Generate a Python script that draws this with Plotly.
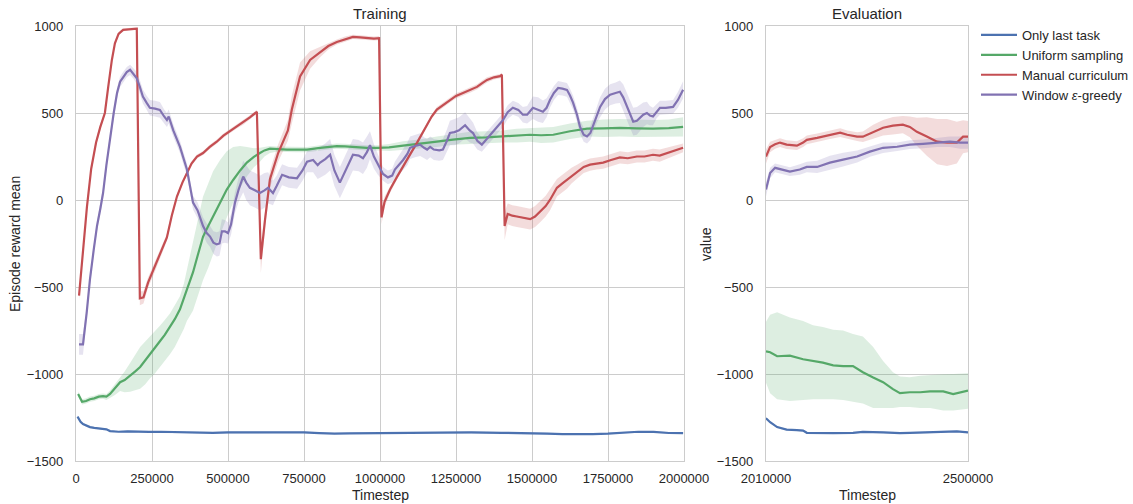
import plotly.graph_objects as go

# ---------------- DATA ----------------
series_names = ["Only last task", "Uniform sampling", "Manual curriculum", "Window <i>ε</i>-greedy"]
series_colors = ["#4C72B0", "#55A868", "#C44E52", "#8172B2"]

# Training: (timestep, mean, half-band)
train_blue = [
    (5000, -1245, 8), (15000, -1275, 8), (23000, -1288, 6), (35000, -1298, 6), (46000, -1305, 5),
    (60000, -1310, 5), (75000, -1313, 5), (89000, -1316, 5), (100000, -1318, 5), (112000, -1328, 5),
    (140000, -1332, 5), (170000, -1330, 5), (200000, -1332, 5), (240000, -1333, 5), (280000, -1332, 5),
    (320000, -1333, 5), (360000, -1337, 5), (400000, -1339, 5), (450000, -1338, 5), (500000, -1336, 5),
    (550000, -1336, 5), (600000, -1337, 5), (650000, -1335, 5), (700000, -1334, 5), (750000, -1336, 5),
    (800000, -1340, 5), (850000, -1343, 5), (900000, -1341, 5), (950000, -1340, 5), (1000000, -1338, 5),
    (1100000, -1337, 5), (1200000, -1336, 5), (1300000, -1336, 5), (1400000, -1338, 5), (1500000, -1339, 5),
    (1550000, -1343, 5), (1600000, -1345, 5), (1650000, -1346, 5), (1700000, -1345, 5), (1750000, -1343, 5),
    (1800000, -1337, 5), (1850000, -1332, 5), (1900000, -1333, 5), (1950000, -1339, 5), (1997000, -1340, 5),
]

# Training green: (timestep, mean, upper offset, lower offset)
train_green = [
    (7000, -1115, 15, 15), (20000, -1160, 15, 15), (33000, -1155, 15, 15), (46000, -1145, 15, 15),
    (60000, -1140, 15, 15), (75000, -1130, 15, 15), (89000, -1127, 15, 15), (100000, -1130, 15, 20),
    (112000, -1115, 20, 25), (128000, -1085, 25, 35), (145000, -1047, 30, 50), (160000, -1035, 50, 70),
    (178000, -1012, 75, 90), (195000, -985, 95, 110), (211000, -960, 115, 125), (227000, -925, 110, 135),
    (243000, -886, 100, 140), (260000, -850, 95, 145), (276000, -812, 90, 148), (292000, -775, 85, 150),
    (309000, -732, 80, 155), (325000, -685, 80, 160), (342000, -628, 75, 160), (355000, -570, 90, 170),
    (365000, -514, 110, 180), (375000, -465, 140, 200), (385000, -415, 170, 220), (400000, -320, 200, 240),
    (418000, -210, 230, 250), (435000, -150, 250, 240), (451000, -95, 260, 220), (474000, -10, 240, 190),
    (496000, 60, 220, 160), (517000, 115, 190, 130), (540000, 170, 140, 100), (562000, 215, 90, 80),
    (585000, 248, 50, 60), (605000, 270, 30, 50), (620000, 285, 20, 35), (638000, 295, 15, 25),
    (660000, 292, 15, 15), (694000, 290, 15, 15), (727000, 290, 15, 15), (760000, 290, 15, 15),
    (803000, 300, 15, 15), (830000, 305, 15, 15), (858000, 310, 15, 15), (885000, 308, 15, 15),
    (911000, 305, 15, 15), (957000, 300, 15, 15), (993000, 300, 15, 15), (1030000, 302, 20, 20),
    (1076000, 312, 25, 25), (1130000, 322, 25, 25), (1187000, 335, 30, 30), (1240000, 347, 30, 30),
    (1296000, 357, 35, 35), (1350000, 360, 35, 35), (1405000, 365, 35, 35), (1450000, 370, 40, 40),
    (1493000, 375, 40, 40), (1530000, 372, 45, 45), (1570000, 375, 45, 45), (1625000, 395, 45, 45),
    (1681000, 410, 45, 45), (1735000, 412, 50, 50), (1789000, 415, 50, 50), (1845000, 412, 50, 50),
    (1898000, 410, 50, 50), (1950000, 413, 50, 50), (1997000, 420, 55, 55),
]

train_red = [
    (10000, -550, 25), (23000, -300, 25), (36000, -40, 25), (50000, 180, 20), (66000, 330, 20),
    (80000, 420, 15), (95000, 500, 15), (106000, 650, 12), (118000, 805, 12), (128000, 900, 12),
    (140000, 955, 10), (155000, 978, 8), (175000, 983, 8), (200000, 985, 8), (210000, -565, 40),
    (222000, -560, 35), (237000, -475, 30), (260000, -380, 30), (280000, -300, 25), (299000, -215, 20),
    (315000, -90, 15), (332000, 20, 12), (350000, 100, 12), (365000, 157, 12), (380000, 210, 12),
    (398000, 250, 12), (418000, 270, 12), (440000, 305, 12), (463000, 335, 12), (485000, 370, 12),
    (506000, 395, 12), (530000, 425, 12), (550000, 444, 12), (572000, 475, 12), (595000, 507, 12),
    (608000, -340, 80), (622000, -110, 50), (638000, 120, 50), (665000, 270, 50), (697000, 400, 60),
    (710000, 520, 80), (737000, 710, 80), (770000, 805, 50), (803000, 850, 30), (830000, 885, 20),
    (858000, 908, 15), (885000, 925, 15), (911000, 937, 12), (935000, 935, 12), (957000, 930, 12),
    (980000, 928, 12), (997000, 930, 12), (1005000, -100, 40), (1015000, -10, 30), (1033000, 60, 20),
    (1055000, 130, 15), (1076000, 190, 12), (1100000, 265, 12), (1122000, 330, 12), (1140000, 385, 12),
    (1155000, 430, 12), (1170000, 480, 12), (1187000, 520, 15), (1210000, 550, 15), (1230000, 575, 15),
    (1250000, 598, 15), (1273000, 615, 15), (1296000, 632, 15), (1319000, 650, 15), (1335000, 670, 15),
    (1352000, 690, 15), (1375000, 705, 12), (1395000, 712, 12), (1401000, 720, 12), (1410000, -150, 80),
    (1420000, -80, 60), (1435000, -90, 60), (1450000, -95, 60), (1470000, -100, 60), (1494000, -110, 60),
    (1510000, -95, 60), (1526000, -70, 60), (1545000, -35, 60), (1559000, 0, 60), (1582000, 70, 50),
    (1600000, 95, 50), (1615000, 115, 50), (1630000, 140, 45), (1648000, 163, 40), (1670000, 190, 35),
    (1691000, 203, 35), (1712000, 210, 35), (1734000, 215, 35), (1760000, 230, 35), (1789000, 245, 35),
    (1815000, 240, 35), (1845000, 250, 35), (1870000, 250, 35), (1898000, 260, 35), (1920000, 255, 35),
    (1944000, 270, 30), (1970000, 285, 30), (1997000, 300, 25),
]

train_purple = [
    (10000, -830, 60), (23000, -830, 60), (35000, -650, 35), (46000, -455, 30), (58000, -290, 30),
    (69000, -150, 30), (80000, -50, 30), (89000, 40, 30), (100000, 200, 30), (112000, 365, 30),
    (124000, 500, 30), (135000, 615, 30), (145000, 680, 30), (155000, 705, 30), (167000, 735, 30),
    (178000, 748, 30), (190000, 725, 30), (200000, 700, 35), (210000, 650, 40), (220000, 595, 40),
    (232000, 560, 40), (243000, 530, 45), (260000, 525, 45), (276000, 518, 45), (290000, 480, 40),
    (299000, 460, 40), (305000, 480, 40), (320000, 400, 35), (342000, 305, 35), (355000, 230, 35),
    (365000, 175, 35), (375000, 80, 35), (385000, -15, 40), (400000, -60, 45), (418000, -150, 50),
    (430000, -190, 55), (441000, -210, 60), (452000, -245, 65), (463000, -255, 70), (472000, -250, 70),
    (480000, -180, 70), (490000, -180, 65), (500000, -190, 60), (510000, -140, 60), (523000, -15, 60),
    (535000, 60, 70), (550000, 135, 90), (560000, 100, 100), (572000, 70, 100), (590000, 55, 100),
    (605000, 40, 100), (620000, 55, 100), (632000, 70, 90), (640000, 55, 80), (648000, 40, 70),
    (660000, 80, 60), (678000, 145, 60), (700000, 130, 60), (727000, 125, 60), (745000, 170, 60),
    (760000, 220, 60), (780000, 230, 70), (795000, 200, 80), (803000, 215, 90), (820000, 235, 90),
    (836000, 260, 90), (850000, 170, 90), (868000, 100, 90), (890000, 180, 90), (911000, 260, 90),
    (930000, 255, 90), (944000, 240, 90), (957000, 275, 90), (967000, 315, 80), (980000, 250, 70),
    (993000, 205, 60), (1010000, 150, 40), (1026000, 130, 40), (1040000, 140, 40), (1049000, 175, 45),
    (1062000, 200, 55), (1076000, 230, 60), (1090000, 265, 65), (1099000, 300, 65), (1115000, 310, 65),
    (1132000, 318, 65), (1145000, 300, 60), (1155000, 290, 60), (1165000, 305, 60), (1177000, 290, 60),
    (1195000, 285, 60), (1207000, 290, 60), (1220000, 340, 65), (1230000, 385, 70), (1245000, 390, 75),
    (1260000, 400, 75), (1280000, 430, 75), (1295000, 400, 70), (1306000, 385, 60), (1320000, 340, 50),
    (1335000, 318, 40), (1350000, 350, 40), (1362000, 375, 40), (1385000, 420, 40), (1405000, 460, 40),
    (1420000, 505, 40), (1437000, 530, 40), (1455000, 518, 40), (1470000, 490, 45), (1484000, 490, 50),
    (1503000, 530, 65), (1520000, 520, 70), (1536000, 507, 65), (1548000, 530, 55), (1559000, 575, 45),
    (1572000, 615, 40), (1586000, 644, 40), (1600000, 640, 40), (1615000, 633, 40), (1625000, 600, 40),
    (1635000, 560, 40), (1648000, 490, 40), (1658000, 420, 40), (1670000, 375, 40), (1681000, 365, 40),
    (1692000, 385, 40), (1705000, 450, 45), (1715000, 500, 50), (1724000, 535, 55), (1740000, 580, 60),
    (1757000, 605, 60), (1775000, 615, 60), (1789000, 622, 65), (1800000, 590, 75), (1813000, 535, 80),
    (1823000, 490, 80), (1833000, 450, 80), (1845000, 455, 80), (1855000, 473, 75), (1866000, 490, 70),
    (1878000, 500, 65), (1888000, 485, 55), (1898000, 480, 50), (1910000, 510, 40), (1921000, 530, 40),
    (1940000, 530, 40), (1964000, 535, 40), (1980000, 575, 45), (1997000, 633, 50),
]

# Evaluation
eval_blue = [
    (2010000, -1255, 8), (2020000, -1277, 6), (2037000, -1305, 5), (2060000, -1320, 5), (2085000, -1322, 5),
    (2100000, -1325, 5), (2109000, -1338, 5), (2134000, -1340, 5), (2173000, -1340, 5), (2221000, -1338, 5),
    (2245000, -1333, 5), (2294000, -1335, 5), (2335000, -1340, 5), (2359000, -1338, 5), (2400000, -1336, 5),
    (2440000, -1333, 5), (2473000, -1330, 5), (2500000, -1336, 5),
]

# (timestep, mean, upper, lower)
eval_green = [
    (2010000, -870, -700, -1050), (2020000, -875, -660, -1110), (2037000, -898, -645, -1145),
    (2068000, -895, -675, -1155), (2100000, -915, -695, -1150), (2124000, -925, -720, -1145),
    (2148000, -935, -730, -1145), (2173000, -950, -745, -1145), (2197000, -955, -750, -1150),
    (2221000, -955, -770, -1160), (2245000, -990, -785, -1170), (2270000, -1020, -845, -1195),
    (2294000, -1047, -925, -1195), (2318000, -1087, -990, -1195), (2335000, -1110, -1015, -1190),
    (2359000, -1105, -1018, -1190), (2384000, -1105, -1010, -1195), (2408000, -1100, -1005, -1195),
    (2440000, -1100, -1002, -1210), (2464000, -1115, -1000, -1210), (2481000, -1105, -998, -1205),
    (2500000, -1095, -995, -1200),
]

eval_red = [
    (2010000, 250, 40), (2020000, 305, 30), (2032000, 320, 25), (2044000, 330, 25), (2060000, 318, 25),
    (2085000, 312, 25), (2100000, 330, 25), (2109000, 346, 25), (2134000, 357, 25), (2165000, 375, 25),
    (2190000, 387, 25), (2207000, 375, 25), (2231000, 364, 25), (2245000, 364, 30), (2270000, 392, 40),
    (2294000, 415, 45), (2318000, 427, 50), (2342000, 433, 50), (2359000, 420, 60), (2376000, 392, 80),
    (2400000, 365, 110), (2425000, 335, 130), (2449000, 330, 135), (2473000, 330, 120), (2488000, 364, 95),
    (2500000, 364, 90),
]

eval_purple = [
    (2010000, 60, 40), (2020000, 155, 30), (2032000, 185, 25), (2051000, 175, 25), (2068000, 163, 25),
    (2092000, 175, 30), (2109000, 190, 30), (2134000, 190, 35), (2165000, 215, 40), (2197000, 232, 40),
    (2231000, 250, 35), (2262000, 278, 30), (2294000, 300, 30), (2328000, 306, 25), (2359000, 318, 25),
    (2391000, 323, 25), (2425000, 330, 25), (2456000, 335, 30), (2481000, 330, 35), (2500000, 330, 35),
]

y_ticks = [-1500, -1000, -500, 0, 500, 1000]
y_ticktext = ["\u22121500", "\u22121000", "\u2212500", "0", "500", "1000"]
x_train_ticks = [0, 250000, 500000, 750000, 1000000, 1250000, 1500000, 1750000, 2000000]
x_eval_ticks = [2010000, 2500000]

# ---------------- FIGURE ----------------
W, H = 1133, 504
fig = go.Figure()


def rgba(hex_color, a):
    h = hex_color.lstrip("#")
    return "rgba(%d,%d,%d,%.2f)" % (int(h[0:2], 16), int(h[2:4], 16), int(h[4:6], 16), a)


def add_band(xa, ya, ts, upper, lower, color):
    fig.add_trace(go.Scatter(x=ts + ts[::-1], y=upper + lower[::-1], xaxis=xa, yaxis=ya,
                             fill="toself", fillcolor=rgba(color, 0.2), line=dict(width=0),
                             mode="lines", showlegend=False, hoverinfo="skip"))


def add_line(xa, ya, ts, vals, color, name, show):
    fig.add_trace(go.Scatter(x=ts, y=vals, xaxis=xa, yaxis=ya, mode="lines",
                             line=dict(color=color, width=2.2), name=name, showlegend=show))


def sym(rows):
    ts = [r[0] for r in rows]
    m = [r[1] for r in rows]
    up = [r[1] + r[2] for r in rows]
    lo = [r[1] - r[2] for r in rows]
    return ts, m, up, lo


train_sets = [
    sym(train_blue),
    ([r[0] for r in train_green], [r[1] for r in train_green],
     [r[1] + r[2] for r in train_green], [r[1] - r[3] for r in train_green]),
    sym(train_red),
    sym(train_purple),
]
eval_sets = [
    sym(eval_blue),
    ([r[0] for r in eval_green], [r[1] for r in eval_green],
     [r[2] for r in eval_green], [r[3] for r in eval_green]),
    sym(eval_red),
    sym(eval_purple),
]

for i, (ts, m, up, lo) in enumerate(train_sets):
    add_band("x", "y", ts, up, lo, series_colors[i])
for i, (ts, m, up, lo) in enumerate(eval_sets):
    add_band("x2", "y2", ts, up, lo, series_colors[i])
for i, (ts, m, up, lo) in enumerate(train_sets):
    add_line("x", "y", ts, m, series_colors[i], series_names[i], True)
for i, (ts, m, up, lo) in enumerate(eval_sets):
    add_line("x2", "y2", ts, m, series_colors[i], series_names[i], False)

left0, left1 = 76 / W, 684 / W
right0, right1 = 766 / W, 968 / W
bot, top = 1 - 461 / H, 1 - 26 / H

font_family = "Liberation Sans, Arial, sans-serif"
txt = "#262626"
grid = "#cccccc"

axis_common = dict(showgrid=True, gridcolor=grid, gridwidth=1, zeroline=False,
                   showline=True, linecolor=grid, linewidth=1.3, mirror=True,
                   ticks="", tickfont=dict(size=13, color=txt, family=font_family))

fig.update_layout(
    width=W, height=H, plot_bgcolor="white", paper_bgcolor="white",
    margin=dict(l=0, r=0, t=0, b=0, autoexpand=False),
    font=dict(family=font_family, color=txt, size=13),
    xaxis=dict(domain=[left0, left1], range=[0, 2000000], tickvals=x_train_ticks,
               ticktext=[str(v) for v in x_train_ticks], anchor="y", ticklabelstandoff=5, **axis_common),
    yaxis=dict(domain=[bot, top], range=[-1500, 1000], tickvals=y_ticks, ticktext=y_ticktext,
               anchor="x", ticklabelstandoff=9, **axis_common),
    xaxis2=dict(domain=[right0, right1], range=[2010000, 2500000], tickvals=x_eval_ticks,
                ticktext=[str(v) for v in x_eval_ticks], anchor="y2", ticklabelstandoff=5, **axis_common),
    yaxis2=dict(domain=[bot, top], range=[-1500, 1000], tickvals=y_ticks, ticktext=y_ticktext,
                anchor="x2", ticklabelstandoff=9, **axis_common),
    legend=dict(x=976 / W, y=1 - 20 / H, xanchor="left", yanchor="top",
                font=dict(size=13, color=txt, family=font_family), bgcolor="rgba(0,0,0,0)",
                itemwidth=36),
    showlegend=True,
)

annots = [
    dict(text="Training", x=380 / W, y=1 - 13 / H, size=15, angle=0),
    dict(text="Evaluation", x=867 / W, y=1 - 13 / H, size=15, angle=0),
    dict(text="Timestep", x=380 / W, y=1 - 495 / H, size=14, angle=0),
    dict(text="Timestep", x=867 / W, y=1 - 495 / H, size=14, angle=0),
    dict(text="Episode reward mean", x=15 / W, y=1 - 244 / H, size=14, angle=-90),
    dict(text="value", x=706 / W, y=1 - 244 / H, size=14, angle=-90),
]
for a in annots:
    fig.add_annotation(text=a["text"], x=a["x"], y=a["y"], xref="paper", yref="paper",
                       showarrow=False, xanchor="center", yanchor="middle", textangle=a["angle"],
                       font=dict(size=a["size"], color=txt, family=font_family))

fig.write_html("out.html", config={"displayModeBar": False},
               post_script="document.body.style.margin='0px';document.body.style.overflow='hidden';")
